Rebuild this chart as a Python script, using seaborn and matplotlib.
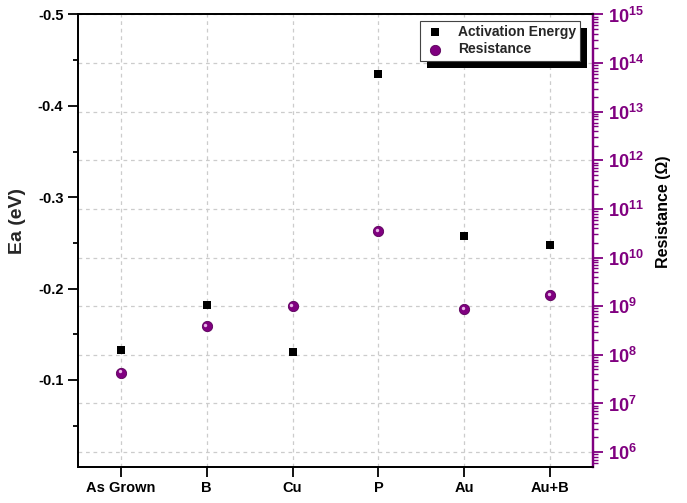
import numpy as np
import pandas as pd
import matplotlib
matplotlib.use("Agg")
import matplotlib.pyplot as plt
import matplotlib.ticker as mticker
import matplotlib.transforms as mtransforms
from matplotlib.patches import Rectangle
import seaborn as sns

# -------------------------------
# Data
# -------------------------------
samples = ["As Grown", "B", "Cu", "P", "Au", "Au+B"]
activation_energy = [-0.133, -0.182, -0.130, -0.435, -0.258, -0.248]   # eV
resistance = [4.3e7, 3.9e8, 1.0e9, 3.5e10, 8.7e8, 1.7e9]                 # Ohm

df = pd.DataFrame({"Sample": samples,
                   "Ea": activation_energy,
                   "R": resistance})

purple = "#800080"


def log_label(v, pos):
    # only label decades inside the shown range
    if v < 10**5.9 or v > 10**15.1:
        return ""
    return r"$\mathbf{10^{%d}}$" % int(round(np.log10(v)))


# -------------------------------
# Style
# -------------------------------
sns.set_style("white")
plt.rcParams["font.family"] = ["Liberation Sans", "DejaVu Sans"]
plt.rcParams["font.weight"] = "bold"
plt.rcParams["mathtext.fontset"] = "custom"
plt.rcParams["mathtext.rm"] = "Liberation Sans"
plt.rcParams["mathtext.bf"] = "Liberation Sans:bold"
plt.rcParams["axes.linewidth"] = 1.3

fig = plt.figure(figsize=(6.87, 5.03), dpi=100)
# resistance axis is the base one so its grid sits under everything
ax = fig.add_axes([0.1135, 0.0722, 0.7497, 0.899])
ax2 = ax.twinx()

# Resistance (log, right side)
sns.scatterplot(data=df, x="Sample", y="R", ax=ax, marker="o", s=55,
                color=purple, edgecolor="#5a005a", linewidth=0.6,
                label="Resistance", legend=False, zorder=3)
# small highlight to give the sphere look
hl = mtransforms.offset_copy(ax.transData, fig=fig, x=-1.3, y=1.3, units="dots")
ax.scatter(np.arange(len(samples)), resistance, s=6, color="#e8b8e8",
           linewidths=0, transform=hl, zorder=4)

ax.set_yscale("log")
ax.set_ylim(10**5.7, 10**15)
ax.yaxis.tick_right()
ax.yaxis.set_label_position("right")
ax.yaxis.set_major_locator(mticker.LogLocator(base=10, numticks=20))
ax.yaxis.set_minor_locator(mticker.LogLocator(base=10, subs=np.arange(2, 10), numticks=20))
ax.yaxis.set_minor_formatter(mticker.NullFormatter())
ax.yaxis.set_major_formatter(mticker.FuncFormatter(log_label))
ax.tick_params(axis="y", which="major", direction="out", length=7, width=1.3,
               colors=purple, labelsize=13, right=True, left=False)
ax.tick_params(axis="y", which="minor", direction="out", length=3.5, width=1,
               colors=purple, right=True, left=False)
ax.set_ylabel("Resistance (\u03a9)", fontsize=11.5, fontweight="bold", color="black")
ax.yaxis.set_label_coords(1.122, 0.563)

ax.set_xlim(-0.5, len(samples) - 0.5)
ax.set_xlabel("")
ax.tick_params(axis="x", direction="out", length=7, width=1.3, labelsize=10.5,
               bottom=True, colors="black")
for t in ax.get_xticklabels():
    t.set_fontweight("bold")

ax.grid(True, which="major", axis="both", linestyle=(0, (3, 3)),
        color="#cccccc", linewidth=0.9)
ax.set_axisbelow(True)

# Activation energy (linear, left side, inverted)
sns.scatterplot(data=df, x="Sample", y="Ea", ax=ax2, marker="s", s=40,
                color="black", edgecolor="black", linewidth=0,
                label="Activation Energy", legend=False, zorder=3)
ax2.yaxis.tick_left()
ax2.yaxis.set_label_position("left")
ax2.set_ylim(-0.005, -0.5)
ax2.yaxis.set_major_locator(mticker.MultipleLocator(0.1))
ax2.yaxis.set_minor_locator(mticker.MultipleLocator(0.05))
ax2.yaxis.set_major_formatter(mticker.FormatStrFormatter("%.1f"))
ax2.tick_params(axis="y", which="major", direction="out", length=7, width=1.3,
                labelsize=10.5, left=True, right=False, colors="black")
ax2.tick_params(axis="y", which="minor", direction="out", length=3.5, width=1.3,
                left=True, right=False, colors="black")
ax2.set_ylabel("Ea (eV)", fontsize=14, fontweight="bold")
ax2.yaxis.set_label_coords(-0.10, 0.543)
ax2.set_xlim(-0.5, len(samples) - 0.5)
ax2.set_xlabel("")
ax2.grid(False)

for a in (ax, ax2):
    for side in ("left", "top", "bottom"):
        a.spines[side].set_color("black")
        a.spines[side].set_linewidth(1.3)
    a.spines["right"].set_color(purple)
    a.spines["right"].set_linewidth(1.6)
for t in ax2.get_yticklabels():
    t.set_fontweight("bold")

# Legend with a solid black drop shadow
h1, l1 = ax2.get_legend_handles_labels()
h2, l2 = ax.get_legend_handles_labels()
leg = ax2.legend(h1 + h2, l1 + l2, loc="upper right",
                 bbox_to_anchor=(580 / 687, 1 - 20.7 / 503),
                 bbox_transform=fig.transFigure, borderaxespad=0,
                 fancybox=False, framealpha=1, edgecolor="#444444",
                 prop={"weight": "bold", "size": 10}, handletextpad=0.8,
                 borderpad=0.3, labelspacing=0.25, handlelength=1.6)
leg.get_frame().set_linewidth(0.8)
leg.set_zorder(6)

fig.canvas.draw()
bb = leg.get_frame().get_window_extent().transformed(fig.transFigure.inverted())
shadow = Rectangle((bb.x0 + 7 / 687, bb.y0 - 7 / 503), bb.width, bb.height,
                   transform=fig.transFigure, facecolor="black", edgecolor="none",
                   zorder=5, clip_on=False)
ax2.add_artist(shadow)

fig.savefig("out.png", dpi=100)
